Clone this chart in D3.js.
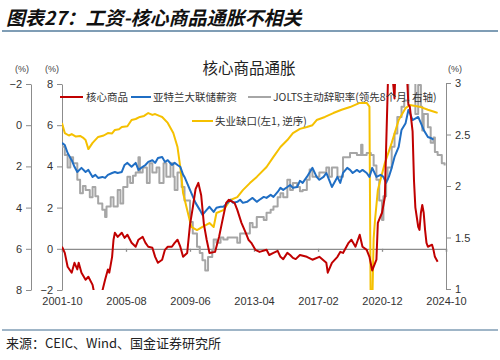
<!DOCTYPE html>
<html><head><meta charset="utf-8">
<script src="https://cdn.jsdelivr.net/npm/d3@7"></script>
<style>
body{margin:0;background:#fff;}
text{font-family:"Liberation Sans","Noto Sans CJK SC",sans-serif;}
.cjk{font-family:"Noto Sans CJK SC",sans-serif;}
</style></head>
<body><svg id="c" width="500" height="360"></svg>
<script>
// ---- data ----
const xTickLabels = ["2001-10","2005-08","2009-06","2013-04","2017-02","2020-12","2024-10"];
const outerTicks = [-2,0,2,4,6,8];
const innerTicks = [-2,0,2,4,6,8];
const rightTicks = [1,1.5,2,2.5,3];
const seriesNames = ["核心商品","亚特兰大联储薪资","JOLTS主动辞职率(领先8个月, 右轴)","失业缺口(左1, 逆序)"];

// 核心商品 (%, inner left axis)
const coreGoods = [["2001-10",0.1],["2001-12",-0.2],["2002-02",-0.87],["2002-05",-1.16],["2002-07",-0.68],["2002-09",-1.0],["2002-10",-0.68],["2002-12",-1.16],["2003-03",-1.5],["2003-05",-1.36],["2003-08",-1.75],["2003-09",-2.1],["2003-11",-2.6],["2004-01",-2.4],["2004-03",-2.05],["2004-05",-1.5],["2004-07",-1.0],["2004-08",-1.16],["2004-10",-0.39],["2004-11",0.44],["2004-12",0.78],["2005-02",0.58],["2005-05",0.78],["2005-07",0.53],["2005-09",0.68],["2005-12",0.29],["2006-03",0.1],["2006-05",0.44],["2006-08",0.58],["2006-10",0.29],["2006-12",0.1],["2007-03",0.05],["2007-05",-0.39],["2007-07",-0.68],["2007-10",-0.53],["2007-12",-0.05],["2008-02",0.1],["2008-05",0.1],["2008-07",0.29],["2008-09",0.44],["2008-11",0.1],["2009-01",-0.39],["2009-04",-0.2],["2009-06",1.16],["2009-08",2.0],["2009-10",2.9],["2009-12",3.2],["2010-02",2.6],["2010-04",1.2],["2010-06",0.44],["2010-08",-0.2],["2010-12",-0.15],["2011-03",0.6],["2011-05",1.26],["2011-08",2.23],["2011-10",2.38],["2012-02",2.23],["2012-04",1.89],["2012-07",1.26],["2012-10",0.78],["2012-12",0.44],["2013-02",0.29],["2013-05",-0.05],["2013-08",-0.15],["2014-01",-0.05],["2014-03",-0.3],["2014-06",-0.2],["2014-09",-0.1],["2014-11",-0.39],["2015-01",-0.5],["2015-04",-0.2],["2015-06",-0.3],["2015-08",-0.44],["2015-10",-0.5],["2016-01",-0.3],["2016-06",-0.39],["2016-10",-0.53],["2017-03",-0.39],["2017-08",-0.68],["2017-09",-1.16],["2017-12",-0.68],["2018-04",-0.39],["2018-06",-0.15],["2018-08",-0.2],["2018-12",0.29],["2019-02",0.44],["2019-05",0.1],["2019-08",0.68],["2019-10",0.1],["2020-01",-0.05],["2020-03",-0.39],["2020-05",-1.05],["2020-08",-0.53],["2020-09",1.26],["2020-12",1.75],["2021-02",2.5],["2021-03",4.9],["2021-04",7.4],["2021-05",10.0],["2021-06",9.5],["2021-09",7.3],["2021-10",9.5],["2021-12",10.7],["2022-02",12.3],["2022-05",9.5],["2022-06",8.4],["2022-07",7.0],["2022-08",6.9],["2022-10",5.7],["2022-11",3.3],["2022-12",2.0],["2023-02",1.07],["2023-03",0.92],["2023-04",1.75],["2023-05",2.13],["2023-06",1.75],["2023-07",0.92],["2023-08",0.29],["2023-09",0.1],["2023-12",0.2],["2024-01",-0.05],["2024-02",-0.39],["2024-04",-0.63]];

// 亚特兰大联储薪资 (%, inner left axis)
const atlantaWage = [["2001-10",5.14],["2001-12",5.04],["2002-02",4.65],["2002-05",4.3],["2002-07",3.98],["2002-09",3.73],["2002-12",3.93],["2003-03",3.73],["2003-05",3.83],["2003-08",3.49],["2003-10",3.59],["2003-12",3.44],["2004-03",3.49],["2004-05",3.44],["2004-07",3.59],["2004-10",3.68],["2004-12",3.73],["2005-02",3.68],["2005-05",3.73],["2005-07",4.07],["2005-09",4.17],["2005-12",3.98],["2006-03",4.17],["2006-05",3.83],["2006-08",3.98],["2006-10",4.07],["2006-12",4.22],["2007-03",4.3],["2007-05",4.17],["2007-07",4.41],["2007-10",4.46],["2007-12",4.22],["2008-02",4.3],["2008-05",4.07],["2008-07",4.17],["2008-09",4.07],["2008-11",3.98],["2009-01",3.6],["2009-02",3.49],["2009-06",2.86],["2009-10",2.23],["2010-01",1.89],["2010-03",1.65],["2010-06",1.89],["2010-08",2.04],["2010-11",1.79],["2011-01",1.99],["2011-04",2.04],["2011-06",2.04],["2011-09",2.23],["2011-11",2.38],["2012-01",2.23],["2012-04",2.28],["2012-06",2.38],["2012-08",2.23],["2012-11",2.28],["2013-01",2.38],["2013-03",2.47],["2013-06",2.28],["2013-08",2.38],["2013-11",2.52],["2014-01",2.47],["2014-04",2.62],["2014-06",2.52],["2014-09",2.76],["2014-11",2.96],["2015-01",2.86],["2015-04",3.0],["2015-06",3.1],["2015-08",2.96],["2015-11",3.0],["2016-01",3.3],["2016-03",3.2],["2016-06",3.49],["2016-10",3.93],["2017-01",3.49],["2017-03",3.35],["2017-06",3.49],["2017-08",3.68],["2017-10",3.35],["2017-12",3.0],["2018-04",3.49],["2018-06",3.2],["2018-08",3.68],["2018-11",3.93],["2019-01",3.83],["2019-03",3.68],["2019-06",3.83],["2019-08",3.73],["2019-10",3.83],["2020-01",3.68],["2020-03",3.49],["2020-05",3.93],["2020-08",3.49],["2020-11",3.59],["2021-01",3.49],["2021-03",3.2],["2021-05",3.5],["2021-07",3.93],["2021-09",4.46],["2021-12",4.95],["2022-02",5.77],["2022-05",6.1],["2022-07",6.74],["2022-08",6.6],["2022-10",6.25],["2023-02",6.4],["2023-04",6.1],["2023-06",5.77],["2023-09",5.43],["2023-11",5.38],["2024-01",5.3]];

// JOLTS主动辞职率, 领先8个月 (%, right axis)
const joltsQuits = [["2001-10",2.38],["2001-12",2.3],["2002-02",2.18],["2002-04",2.28],["2002-06",2.22],["2002-09",2.06],["2002-11",1.93],["2003-01",2.0],["2003-03",1.96],["2003-06",1.89],["2003-08",1.99],["2003-10",1.9],["2003-12",1.83],["2004-03",1.77],["2004-05",1.7],["2004-06",1.8],["2004-09",1.89],["2004-11",1.8],["2005-02",1.96],["2005-04",1.83],["2005-06",1.99],["2005-09",2.09],["2005-11",2.03],["2006-01",2.1],["2006-03",2.13],["2006-05",2.28],["2006-06",2.13],["2006-08",2.18],["2006-11",2.03],["2007-01",2.22],["2007-03",2.13],["2007-06",2.18],["2007-08",2.03],["2007-11",2.22],["2008-01",2.09],["2008-04",2.22],["2008-06",2.09],["2008-07",1.96],["2008-09",2.13],["2008-12",1.99],["2009-02",1.86],["2009-06",1.65],["2009-08",1.54],["2009-11",1.41],["2010-01",1.35],["2010-03",1.28],["2010-05",1.18],["2010-07",1.31],["2010-10",1.38],["2010-11",1.48],["2011-01",1.45],["2011-04",1.5],["2011-06",1.48],["2011-09",1.5],["2012-01",1.5],["2012-04",1.45],["2012-06",1.54],["2012-11",1.54],["2013-01",1.64],["2013-03",1.6],["2013-06",1.7],["2013-11",1.67],["2014-01",1.74],["2014-04",1.77],["2014-06",1.8],["2014-09",1.89],["2014-11",1.93],["2015-01",1.89],["2015-04",2.06],["2015-06",1.96],["2015-08",2.03],["2015-11",1.99],["2016-01",1.95],["2016-03",1.96],["2016-06",2.06],["2016-08",2.16],["2016-10",2.09],["2017-03",2.13],["2017-08",2.18],["2017-10",2.09],["2017-12",2.18],["2018-04",2.09],["2018-08",2.28],["2019-01",2.32],["2019-06",2.3],["2019-09",2.4],["2019-10",2.3],["2020-01",2.32],["2020-04",2.3],["2020-06",2.2],["2020-08",2.06],["2020-10",1.86],["2020-12",1.67],["2021-01",1.9],["2021-03",2.06],["2021-04",2.18],["2021-07",2.38],["2021-09",2.51],["2021-11",2.67],["2022-02",2.77],["2022-04",2.83],["2022-07",3.0],["2022-08",3.05],["2022-11",3.05],["2022-12",2.7],["2023-02",2.98],["2023-04",2.77],["2023-05",2.54],["2023-06",2.7],["2023-09",2.57],["2023-11",2.42],["2024-01",2.47],["2024-02",2.33],["2024-04",2.3],["2024-07",2.22],["2024-09",2.2]];

// 失业缺口 (%, outer left axis, reversed)
const unemploymentGap = [["2001-10",-0.11],["2001-12",0.38],["2002-03",0.5],["2002-05",0.43],["2002-08",0.55],["2002-11",0.52],["2003-01",0.6],["2003-03",0.72],["2003-05",1.16],["2003-08",0.86],["2003-12",0.57],["2004-04",0.5],["2004-07",0.38],["2004-10",0.4],["2004-12",0.23],["2005-03",0.2],["2005-05",0.09],["2005-09",0.05],["2005-12",-0.25],["2006-03",-0.3],["2006-06",-0.4],["2006-09",-0.45],["2006-12",-0.59],["2007-03",-0.5],["2007-05",-0.54],["2007-08",-0.45],["2007-10",-0.4],["2008-02",-0.11],["2008-06",0.38],["2008-09",1.06],["2008-11",2.03],["2009-01",3.29],["2009-04",4.12],["2009-07",4.94],["2009-11",5.09],["2010-03",4.94],["2010-08",4.75],["2010-11",4.94],["2011-01",4.26],["2011-06",4.12],["2011-11",3.63],["2012-04",3.49],["2012-08",3.15],["2013-01",2.81],["2013-06",2.51],["2014-01",2.03],["2014-06",1.54],["2014-11",1.06],["2015-04",0.72],["2015-08",0.38],["2016-01",0.18],["2016-06",0.09],["2016-10",0.0],["2017-01",-0.25],["2017-07",-0.4],["2018-01",-0.59],["2018-07",-0.75],["2019-01",-0.88],["2019-08",-1.08],["2020-01",-1.08],["2020-03",-0.9],["2020-04",10.3],["2020-05",8.8],["2020-06",5.5],["2020-07",4.6],["2020-09",3.15],["2021-02",1.84],["2021-07",0.86],["2021-12",-0.25],["2022-05",-0.83],["2022-08",-0.98],["2023-04",-0.88],["2023-09",-0.75],["2024-02",-0.64],["2024-04",-0.6]];

// ---- chart ----
const parse = d3.timeParse("%Y-%m");
const svg = d3.select("#c");
const L = 62, R = 446, T = 84, B = 290;

const x = d3.scaleTime().domain([parse("2001-10"), parse("2024-10")]).range([L, R]);
const yInner = d3.scaleLinear().domain([-2, 8]).range([B, T]);
const yOuter = d3.scaleLinear().domain([-2, 8]).range([T, B]);
const yRight = d3.scaleLinear().domain([1, 3]).range([B - 1, T - 1]);

// title
svg.append("text").attr("class","cjk").attr("x",6).attr("y",25)
  .attr("font-size",19).attr("font-weight","bold").attr("font-style","italic").attr("fill","#111")
  .text("图表27：工资-核心商品通胀不相关");
svg.append("line").attr("x1",2).attr("x2",498).attr("y1",31).attr("y2",31)
  .attr("stroke","#7f9db5").attr("stroke-width",2);
svg.append("text").attr("class","cjk").attr("x",249).attr("y",74).attr("text-anchor","middle")
  .attr("font-size",15.5).attr("fill","#222").text("核心商品通胀");

// footer
svg.append("line").attr("x1",2).attr("x2",498).attr("y1",330).attr("y2",330)
  .attr("stroke","#7f9db5").attr("stroke-width",1.5);
svg.append("text").attr("class","cjk").attr("x",6).attr("y",348)
  .attr("font-size",13).attr("fill","#222").text("来源：CEIC、Wind、国金证券研究所");

// units
[[22,"middle"],[52,"middle"],[455,"middle"]].forEach(([px,a]) =>
  svg.append("text").attr("x",px).attr("y",72).attr("text-anchor",a)
    .attr("font-size",9).attr("fill","#444").text("(%)"));

function styleAxis(g){
  g.selectAll("path,line").attr("stroke","#8c8c8c");
  g.selectAll("text").attr("font-size",11).attr("fill","#333")
    .attr("font-family","Liberation Sans, sans-serif");
}
svg.append("g").attr("transform",`translate(31,0)`)
  .call(d3.axisLeft(yOuter).tickValues(outerTicks).tickSize(5).tickSizeOuter(0).tickPadding(4))
  .call(styleAxis);
svg.append("g").attr("transform",`translate(${L},0)`)
  .call(d3.axisLeft(yInner).tickValues(innerTicks).tickSize(5).tickSizeOuter(0).tickPadding(4))
  .call(styleAxis);
svg.append("g").attr("transform",`translate(${R},0)`)
  .call(d3.axisRight(yRight).tickValues(rightTicks).tickSize(5).tickSizeOuter(0).tickPadding(4)
    .tickFormat(d3.format("")))
  .call(styleAxis);

// zero line / x axis
const xa = svg.append("g").attr("transform",`translate(0,${yInner(0)})`)
  .call(d3.axisBottom(x).tickValues(xTickLabels.map(parse)).tickSize(3).tickFormat(d3.timeFormat("%Y-%m")));
xa.selectAll("path,line").attr("stroke","#8c8c8c").attr("stroke-width",1.3);
xa.selectAll("text").attr("y",48).attr("font-size",11).attr("fill","#333");

// clip
svg.append("clipPath").attr("id","clip").append("rect")
  .attr("x",L).attr("y",T).attr("width",R-L).attr("height",B-T);
const plot = svg.append("g").attr("clip-path","url(#clip)");

function draw(data, yS, color, curve, w){
  const line = d3.line().x(d=>x(parse(d[0]))).y(d=>yS(d[1])).curve(curve);
  plot.append("path").datum(data).attr("d",line).attr("fill","none")
    .attr("stroke",color).attr("stroke-width",w).attr("stroke-linejoin","round");
}
const cYellow = "#f5c000", cGrey = "#a6a6a6", cBlue = "#1f6ec4", cRed = "#c00000";
draw(joltsQuits, yRight, cGrey, d3.curveStepAfter, 2);
draw(unemploymentGap, yOuter, cYellow, d3.curveLinear, 2);
draw(atlantaWage, yInner, cBlue, d3.curveLinear, 2);
draw(coreGoods, yInner, cRed, d3.curveLinear, 2);

// legend
const leg = [
  {name:seriesNames[0], c:cRed, x1:60, x2:83, tx:86, y:97},
  {name:seriesNames[1], c:cBlue, x1:131, x2:151, tx:153, y:97},
  {name:seriesNames[2], c:cGrey, x1:248, x2:271, tx:273, y:97},
  {name:seriesNames[3], c:cYellow, x1:192, x2:213, tx:215, y:121}
];
leg.forEach(l=>{
  svg.append("line").attr("x1",l.x1).attr("x2",l.x2).attr("y1",l.y).attr("y2",l.y)
    .attr("stroke",l.c).attr("stroke-width",2);
  svg.append("text").attr("class","cjk").attr("x",l.tx).attr("y",l.y+4)
    .attr("font-size",10.5).attr("fill","#333").text(l.name);
});
</script></body></html>
